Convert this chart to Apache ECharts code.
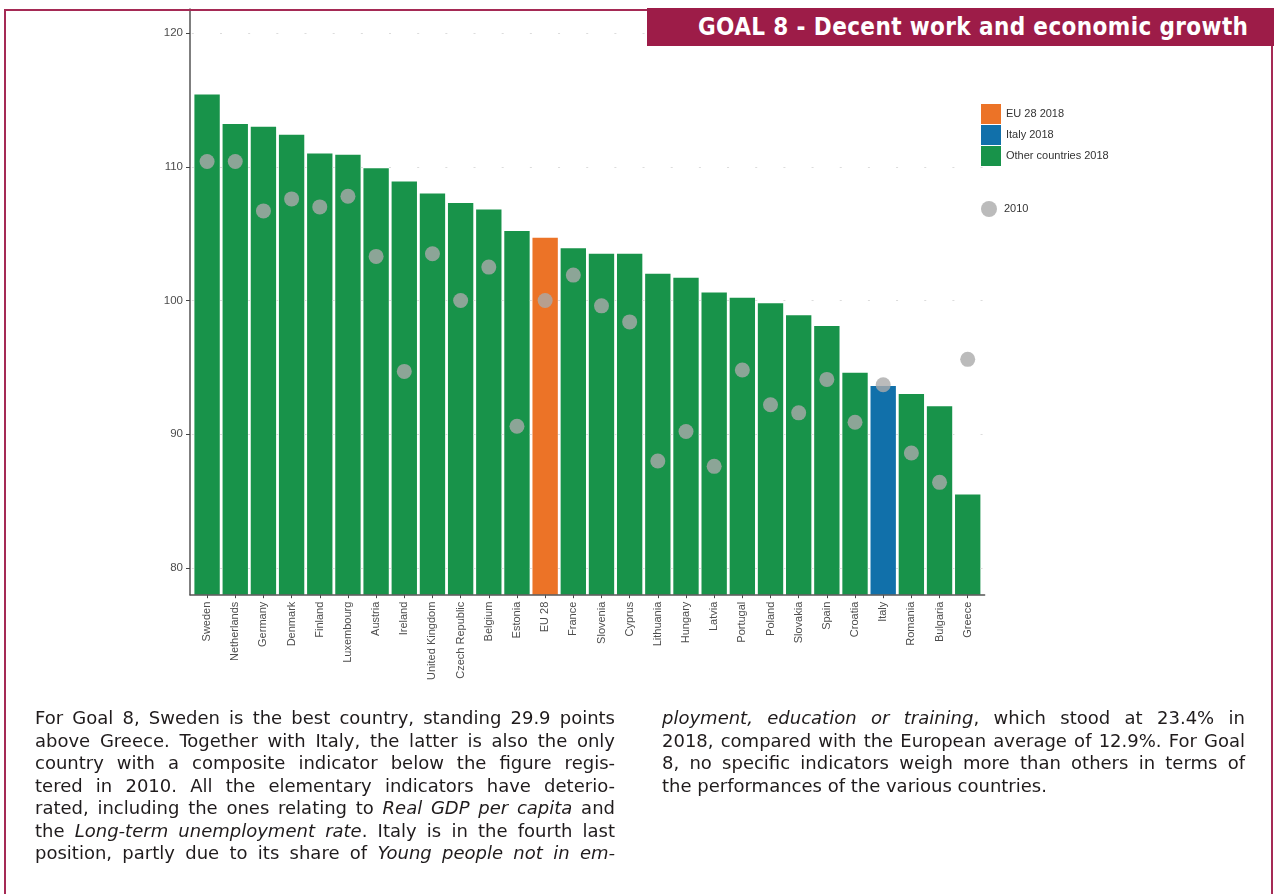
<!DOCTYPE html>
<html>
<head>
<meta charset="utf-8">
<script src="https://cdn.jsdelivr.net/npm/echarts@6/dist/echarts.min.js"></script>
<style>
  html, body { margin:0; padding:0; background:#ffffff; }
  #wrap { position:relative; width:1274px; height:894px; overflow:hidden; background:#ffffff; }
  #chart { position:absolute; left:0; top:0; width:1274px; height:894px; }
  .rule { position:absolute; background:#a52a55; }
  #title { position:absolute; left:647px; top:8px; width:627px; height:38px; background:#9d1c48;
           color:#ffffff; font-family:'DejaVu Sans Condensed','DejaVu Sans',sans-serif; font-stretch:condensed;
           font-weight:bold; font-size:24px; letter-spacing:0.38px; line-height:38px; box-sizing:border-box; padding-left:51px; white-space:nowrap; }
  .col { position:absolute; top:707px; width:580px; font-family:'DejaVu Sans',sans-serif;
         font-size:18px; line-height:22.5px; color:#1f1b1c; }
  .col div { text-align:justify; text-align-last:justify; }
  .col div.last { text-align-last:left; }
</style>
</head>
<body>
<div id="wrap">
  <div id="chart"></div>
  <div class="rule" style="left:4px;top:9px;width:2px;height:885px;"></div>
  <div class="rule" style="left:4px;top:9px;width:645px;height:2px;"></div>
  <div class="rule" style="left:1271px;top:44px;width:2px;height:850px;"></div>
  <div id="title">GOAL 8 - Decent work and economic growth</div>
  <div class="col" style="left:35px;">
    <div>For Goal 8, Sweden is the best country, standing 29.9 points</div>
    <div>above Greece. Together with Italy, the latter is also the only</div>
    <div>country with a composite indicator below the figure regis-</div>
    <div>tered in 2010. All the elementary indicators have deterio-</div>
    <div>rated, including the ones relating to <i>Real GDP per capita</i> and</div>
    <div>the <i>Long-term unemployment rate</i>. Italy is in the fourth last</div>
    <div>position, partly due to its share of <i>Young people not in em-</i></div>
  </div>
  <div class="col" style="left:662px;width:583px;">
    <div><i>ployment, education or training</i>, which stood at 23.4% in</div>
    <div>2018, compared with the European average of 12.9%. For Goal</div>
    <div>8, no specific indicators weigh more than others in terms of</div>
    <div class="last">the performances of the various countries.</div>
  </div>
</div>
<script>
const categories = ['Sweden','Netherlands','Germany','Denmark','Finland','Luxembourg','Austria','Ireland',
  'United Kingdom','Czech Republic','Belgium','Estonia','EU 28','France','Slovenia','Cyprus','Lithuania',
  'Hungary','Latvia','Portugal','Poland','Slovakia','Spain','Croatia','Italy','Romania','Bulgaria','Greece'];
const values2018 = [115.4, 113.2, 113.0, 112.4, 111.0, 110.9, 109.9, 108.9, 108.0, 107.3, 106.8, 105.2, 104.7,
  103.9, 103.5, 103.5, 102.0, 101.7, 100.6, 100.2, 99.8, 98.9, 98.1, 94.6, 93.6, 93.0, 92.1, 85.5];
const values2010 = [110.4, 110.4, 106.7, 107.6, 107.0, 107.8, 103.3, 94.7, 103.5, 100.0, 102.5, 90.6, 100.0,
  101.9, 99.6, 98.4, 88.0, 90.2, 87.6, 94.8, 92.2, 91.6, 94.1, 90.9, 93.7, 88.6, 86.4, 95.6];
const yTicks = [80, 90, 100, 110, 120];
const seriesNames = ['EU 28 2018', 'Italy 2018', 'Other countries 2018'];
const dotName = '2010';
const euCategory = 'EU 28';
const italyCategory = 'Italy';

const yMin = 78, yMax = 121.8;
const colors = { eu:'#ec7327', italy:'#1170aa', other:'#18934a', dot:'#aaaaaa' };

const euData = categories.map((c, i) => c === euCategory ? values2018[i] : '-');
const itData = categories.map((c, i) => c === italyCategory ? values2018[i] : '-');
const otData = categories.map((c, i) => (c !== euCategory && c !== italyCategory) ? values2018[i] : '-');

const chart = echarts.init(document.getElementById('chart'), null, { renderer: 'canvas' });
const labelFont = 'Liberation Sans, Arial, sans-serif';
chart.setOption({
  animation: false,
  backgroundColor: 'transparent',
  grid: [
    { left: 193, top: 9, width: 788.8, height: 585.7 },
    { left: 190, top: 9, width: 794.6, height: 585.7 }
  ],
  xAxis: [
    { gridIndex: 0, type: 'category', data: categories,
      axisLine: { show: false },
      axisTick: { show: true, alignWithLabel: true, length: 3.5, lineStyle: { color: '#444', width: 1 } },
      axisLabel: { rotate: 90, fontSize: 11, color: '#4d4d4d', margin: 7, fontFamily: labelFont, interval: 0 },
      splitLine: { show: false } },
    { gridIndex: 1, type: 'value', min: 0, max: 1, z: 5,
      axisLine: { show: true, onZero: false, lineStyle: { color: '#555', width: 1.5 } },
      axisTick: { show: false }, axisLabel: { show: false }, splitLine: { show: false } }
  ],
  yAxis: [
    { gridIndex: 0, type: 'value', min: yMin, max: yMax, show: false, splitLine: { show: false } },
    { gridIndex: 1, type: 'value', min: yMin, max: yMax, splitNumber: 5, z: 5,
      axisLine: { show: true, onZero: false, lineStyle: { color: '#555', width: 1.5 } },
      axisTick: { show: true, length: 4, customValues: yTicks, lineStyle: { color: '#444' } },
      axisLabel: { customValues: yTicks, fontSize: 11.5, color: '#4d4d4d', margin: 7, fontFamily: labelFont },
      splitLine: { show: true, lineStyle: { color: '#dcdcdc', width: 1, type: [2, 26.17], dashOffset: 26.34 } } }
  ],
  legend: [
    { data: seriesNames, orient: 'vertical', left: 976, top: 99, itemWidth: 20, itemHeight: 20, itemGap: 1,
      icon: 'rect', selectedMode: false, textStyle: { fontSize: 11, color: '#333', fontFamily: labelFont } },
    { data: [dotName], orient: 'vertical', left: 976, top: 196, itemWidth: 20, itemHeight: 16,
      icon: 'circle', selectedMode: false, textStyle: { fontSize: 11, color: '#333', fontFamily: labelFont } }
  ],
  series: [
    { name: seriesNames[0], type: 'bar', xAxisIndex: 0, yAxisIndex: 0, data: euData, barWidth: '90%', barGap: '-100%',
      itemStyle: { color: colors.eu } },
    { name: seriesNames[1], type: 'bar', xAxisIndex: 0, yAxisIndex: 0, data: itData, barWidth: '90%', barGap: '-100%',
      itemStyle: { color: colors.italy } },
    { name: seriesNames[2], type: 'bar', xAxisIndex: 0, yAxisIndex: 0, data: otData, barWidth: '90%', barGap: '-100%',
      itemStyle: { color: colors.other } },
    { name: dotName, type: 'scatter', xAxisIndex: 0, yAxisIndex: 0, data: values2010, symbol: 'circle',
      symbolSize: 15, z: 4, itemStyle: { color: colors.dot } }
  ]
});
</script>
</body>
</html>
